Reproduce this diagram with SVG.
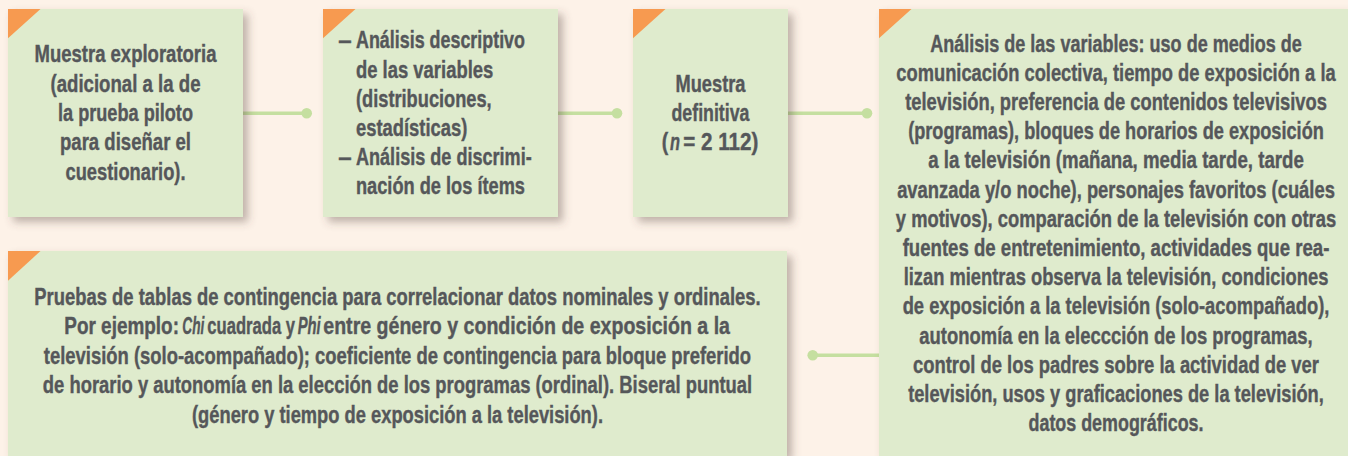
<svg xmlns="http://www.w3.org/2000/svg" width="1348" height="456" viewBox="0 0 1348 456">
<defs>
<filter id="sh" x="-10%" y="-10%" width="130%" height="130%">
<feDropShadow dx="5" dy="5" stdDeviation="4" flood-color="#5a4a3c" flood-opacity="0.38"/>
</filter>
</defs>
<style>
.box{fill:#DFEBCD;filter:url(#sh);}
.tri{fill:#F79A50;}
.t{font-family:"Liberation Sans",Arial,sans-serif;font-weight:bold;font-size:23.5px;fill:#55575A;stroke:#55575A;stroke-width:0.4;}
.c{text-anchor:middle;}
.i{font-style:italic;}
.ln{stroke:#C5DFA0;stroke-width:3.5;fill:none;}
.dot{fill:#C5DFA0;}
</style>
<rect width="1348" height="456" fill="#FDF2E8"/>

<g id="connectors">
<line class="ln" x1="243" y1="113.3" x2="306" y2="113.3"/>
<circle class="dot" cx="306.7" cy="113.3" r="5.3"/>
<line class="ln" x1="558" y1="113.3" x2="617" y2="113.3"/>
<circle class="dot" cx="617" cy="113.3" r="5.3"/>
<line class="ln" x1="788" y1="113.3" x2="867" y2="113.3"/>
<circle class="dot" cx="867" cy="113.3" r="5.3"/>
<line class="ln" x1="879" y1="355.3" x2="813" y2="355.3"/>
<circle class="dot" cx="812.7" cy="355.3" r="5.3"/>
</g>

<g id="node1">
<rect class="box" x="8" y="9" width="235" height="208"/>
<polygon class="tri" points="8,9 40.5,9 8,38.3"/>
<g transform="scale(0.78,1)">
<text class="t c" x="160.9" y="62.5" textLength="233.33" lengthAdjust="spacingAndGlyphs">Muestra exploratoria</text>
<text class="t c" x="160.9" y="91.8" textLength="192.31" lengthAdjust="spacingAndGlyphs">(adicional a la de</text>
<text class="t c" x="160.9" y="121.1" textLength="173.08" lengthAdjust="spacingAndGlyphs">la prueba piloto</text>
<text class="t c" x="160.9" y="150.4" textLength="167.95" lengthAdjust="spacingAndGlyphs">para diseñar el</text>
<text class="t c" x="160.9" y="179.7" textLength="153.85" lengthAdjust="spacingAndGlyphs">cuestionario).</text>
</g>
</g>

<g id="node2">
<rect class="box" x="323" y="9" width="235" height="208"/>
<polygon class="tri" points="323,9 355.5,9 323,38.3"/>
<g transform="scale(0.78,1)">
<text class="t" x="433.72" y="48.5" textLength="17.18" lengthAdjust="spacingAndGlyphs">–</text>
<text class="t" x="456.41" y="48.5" textLength="216.67" lengthAdjust="spacingAndGlyphs">Análisis descriptivo</text>
<text class="t" x="456.41" y="77.7" textLength="176.03" lengthAdjust="spacingAndGlyphs">de las variables</text>
<text class="t" x="456.41" y="106.9" textLength="173.97" lengthAdjust="spacingAndGlyphs">(distribuciones,</text>
<text class="t" x="456.41" y="136.1" textLength="142.69" lengthAdjust="spacingAndGlyphs">estadísticas)</text>
<text class="t" x="433.72" y="165.3" textLength="17.18" lengthAdjust="spacingAndGlyphs">–</text>
<text class="t" x="456.41" y="165.3" textLength="225.26" lengthAdjust="spacingAndGlyphs">Análisis de discrimi-</text>
<text class="t" x="456.41" y="194.5" textLength="216.67" lengthAdjust="spacingAndGlyphs">nación de los ítems</text>
</g>
</g>

<g id="node3">
<rect class="box" x="633" y="9" width="155" height="208"/>
<polygon class="tri" points="633,9 665.5,9 633,38.3"/>
<g transform="scale(0.78,1)">
<text class="t c" x="910.9" y="91.7" textLength="89.74" lengthAdjust="spacingAndGlyphs">Muestra</text>
<text class="t c" x="910.9" y="120.9" textLength="100" lengthAdjust="spacingAndGlyphs">definitiva</text>
<text class="t" x="848.33" y="150.2" textLength="8.33" lengthAdjust="spacingAndGlyphs">(</text>
<text class="t" x="876.03" y="150.2" textLength="96.15" lengthAdjust="spacingAndGlyphs">= 2 112)</text>
</g>
<text class="t i" transform="scale(0.7,1)" x="957.14" y="150.2" textLength="14.29" lengthAdjust="spacingAndGlyphs">n</text>
</g>

<g id="node4">
<rect class="box" x="879" y="9" width="469" height="447"/>
<polygon class="tri" points="879,9 911.5,9 879,38.3"/>
<g transform="scale(0.78,1)">
<text class="t c" x="1430.77" y="51.7" textLength="476.54" lengthAdjust="spacingAndGlyphs">Análisis de las variables: uso de medios de</text>
<text class="t c" x="1430.77" y="80.9" textLength="563.21" lengthAdjust="spacingAndGlyphs">comunicación colectiva, tiempo de exposición a la</text>
<text class="t c" x="1430.77" y="110.1" textLength="540.64" lengthAdjust="spacingAndGlyphs">televisión, preferencia de contenidos televisivos</text>
<text class="t c" x="1430.77" y="139.3" textLength="532.95" lengthAdjust="spacingAndGlyphs">(programas), bloques de horarios de exposición</text>
<text class="t c" x="1430.77" y="168.5" textLength="481.67" lengthAdjust="spacingAndGlyphs">a la televisión (mañana, media tarde, tarde</text>
<text class="t c" x="1430.77" y="197.7" textLength="561.15" lengthAdjust="spacingAndGlyphs">avanzada y/o noche), personajes favoritos (cuáles</text>
<text class="t c" x="1430.77" y="226.9" textLength="564.49" lengthAdjust="spacingAndGlyphs">y motivos), comparación de la televisión con otras</text>
<text class="t c" x="1430.77" y="256.1" textLength="547.05" lengthAdjust="spacingAndGlyphs">fuentes de entretenimiento, actividades que rea-</text>
<text class="t c" x="1430.77" y="285.3" textLength="544.49" lengthAdjust="spacingAndGlyphs">lizan mientras observa la televisión, condiciones</text>
<text class="t c" x="1430.77" y="314.5" textLength="547.05" lengthAdjust="spacingAndGlyphs">de exposición a la televisión (solo-acompañado),</text>
<text class="t c" x="1430.77" y="343.7" textLength="504.23" lengthAdjust="spacingAndGlyphs">autonomía en la eleccción de los programas,</text>
<text class="t c" x="1430.77" y="372.9" textLength="520.51" lengthAdjust="spacingAndGlyphs">control de los padres sobre la actividad de ver</text>
<text class="t c" x="1430.77" y="402.1" textLength="532.95" lengthAdjust="spacingAndGlyphs">televisión, usos y graficaciones de la televisión,</text>
<text class="t c" x="1430.77" y="431.3" textLength="224.36" lengthAdjust="spacingAndGlyphs">datos demográficos.</text>
</g>
</g>

<g id="node5">
<rect class="box" x="8" y="251" width="779" height="205"/>
<polygon class="tri" points="8,251 40.5,251 8,280.7"/>
<g transform="scale(0.78,1)">
<text class="t c" x="509.62" y="305" textLength="931.15" lengthAdjust="spacingAndGlyphs">Pruebas de tablas de contingencia para correlacionar datos nominales y ordinales.</text>
<text class="t" x="82.44" y="334.4" textLength="147.05" lengthAdjust="spacingAndGlyphs">Por ejemplo:</text>
<text class="t" x="414.49" y="334.4" textLength="521.41" lengthAdjust="spacingAndGlyphs">entre género y condición de exposición a la</text>
<text class="t c" x="509.62" y="363.8" textLength="906.79" lengthAdjust="spacingAndGlyphs">televisión (solo-acompañado); coeficiente de contingencia para bloque preferido</text>
<text class="t c" x="509.62" y="393.2" textLength="909.36" lengthAdjust="spacingAndGlyphs">de horario y autonomía en la elección de los programas (ordinal). Biseral puntual</text>
<text class="t c" x="509.62" y="422.6" textLength="526.92" lengthAdjust="spacingAndGlyphs">(género y tiempo de exposición a la televisión).</text>
</g>
<text class="t" transform="scale(0.707,1)" x="293.21" y="334.4" textLength="124.05" lengthAdjust="spacingAndGlyphs">cuadrada y</text>
<text class="t i" transform="scale(0.58,1)" x="314.31" y="334.4" textLength="37.93" lengthAdjust="spacingAndGlyphs">Chi</text>
<text class="t i" transform="scale(0.63,1)" x="472.54" y="334.4" textLength="36.51" lengthAdjust="spacingAndGlyphs">Phi</text>
</g>
</svg>
